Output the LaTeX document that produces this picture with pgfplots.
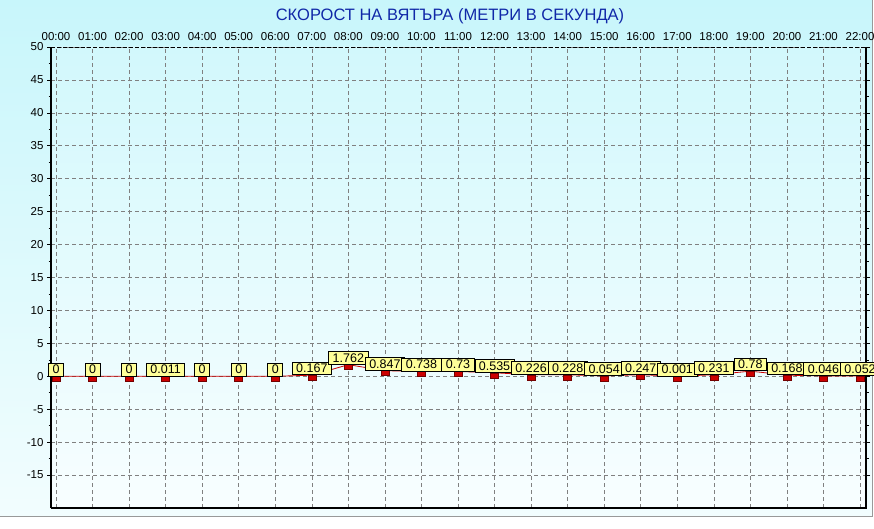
\documentclass[border=0pt]{standalone}
\usepackage{fontspec}
\setmainfont{Liberation Sans}
\usepackage{pgfplots}
\pgfplotsset{compat=1.18}
\usepackage{pgfplotstable}

\definecolor{bgtop}{HTML}{C8F6FB}
\definecolor{bgbot}{HTML}{F2FDFE}
\definecolor{ptop}{HTML}{D2F8FC}
\definecolor{pbot}{HTML}{F8FEFF}
\definecolor{lblfill}{HTML}{FFFF99}
\definecolor{redm}{HTML}{CC0000}
\definecolor{titleblue}{HTML}{1028A8}

\pgfplotstableread{
x y lab
0 0 0
1 0 0
2 0 0
3 0.011 0.011
4 0 0
5 0 0
6 0 0
7 0.167 0.167
8 1.762 1.762
9 0.847 0.847
10 0.738 0.738
11 0.73 0.73
12 0.535 0.535
13 0.226 0.226
14 0.228 0.228
15 0.054 0.054
16 0.247 0.247
17 0.001 0.001
18 0.231 0.231
19 0.78 0.78
20 0.168 0.168
21 0.046 0.046
22 0.052 0.052
}\winddata

\pgfdeclareplotmark{redbox}{\pgfpathrectangle{\pgfqpoint{-4pt}{-5pt}}{\pgfqpoint{8pt}{5pt}}\pgfusepathqfillstroke}

\begin{document}
\begin{tikzpicture}[x=1pt,y=1pt]
\useasboundingbox (0,0) rectangle (874,529);
\fill[white] (0,0) rectangle (874,529);
\shade[top color=bgtop, bottom color=bgbot] (0,12) rectangle (872,529);
\draw[gray!80, line width=1pt] (0,12) -- (872,12) -- (872,529);
\node[font=\fontsize{16.5}{18}\selectfont, text=titleblue] at (450,513) {СКОРОСТ НА ВЯТЪРА (МЕТРИ В СЕКУНДА)};
\begin{axis}[
  at={(51pt,21pt)}, anchor=south west,
  scale only axis, width=815pt, height=461pt,
  xmin=-0.137, xmax=22.164, ymin=-20, ymax=50,
  xtick={0,...,22},
  xticklabels={00:00,01:00,02:00,03:00,04:00,05:00,06:00,07:00,08:00,09:00,10:00,11:00,12:00,13:00,14:00,15:00,16:00,17:00,18:00,19:00,20:00,21:00,22:00},
  xticklabel pos=top,
  xticklabel style={yshift=-1pt},
  ytick={-15,-10,...,50},
  minor y tick num=1,
  tick align=outside,
  major tick length=4pt, minor tick length=2.5pt,
  xtick style={draw=none},
  ytick style={black, line width=0.6pt},
  grid=major,
  major grid style={gray, line width=0.6pt, dash pattern=on 4pt off 3pt},
  axis line style={draw=none},
  axis background/.style={top color=ptop, bottom color=pbot},
  tick label style={font=\fontsize{11.5}{12}\selectfont},
  /pgf/number format/assume math mode=true,
  clip=false,
]
\draw[black, line width=0.8pt, dash pattern=on 4pt off 2pt] (rel axis cs:0,1) -- (rel axis cs:1,1);
\draw[black, line width=1.4pt] (rel axis cs:0,0) -- (rel axis cs:1,0) -- (rel axis cs:1,1);
\draw[black, line width=2.5pt] (rel axis cs:0,0) -- (rel axis cs:0,1);
\addplot[redm, line width=0.8pt, mark=redbox,
  mark options={solid, fill=redm, draw=red!45!black, line width=0.5pt},
  nodes near coords, point meta=explicit symbolic,
  every node near coord/.append style={fill=lblfill, draw=black, line width=0.7pt,
    anchor=south, inner xsep=4pt, inner ysep=1.8pt, text height=8.8pt, text depth=0.5pt,
    font=\fontsize{12.5}{13}\selectfont, text=black}
] table[x=x, y=y, meta=lab] {\winddata};
\end{axis}
\end{tikzpicture}
\end{document}
